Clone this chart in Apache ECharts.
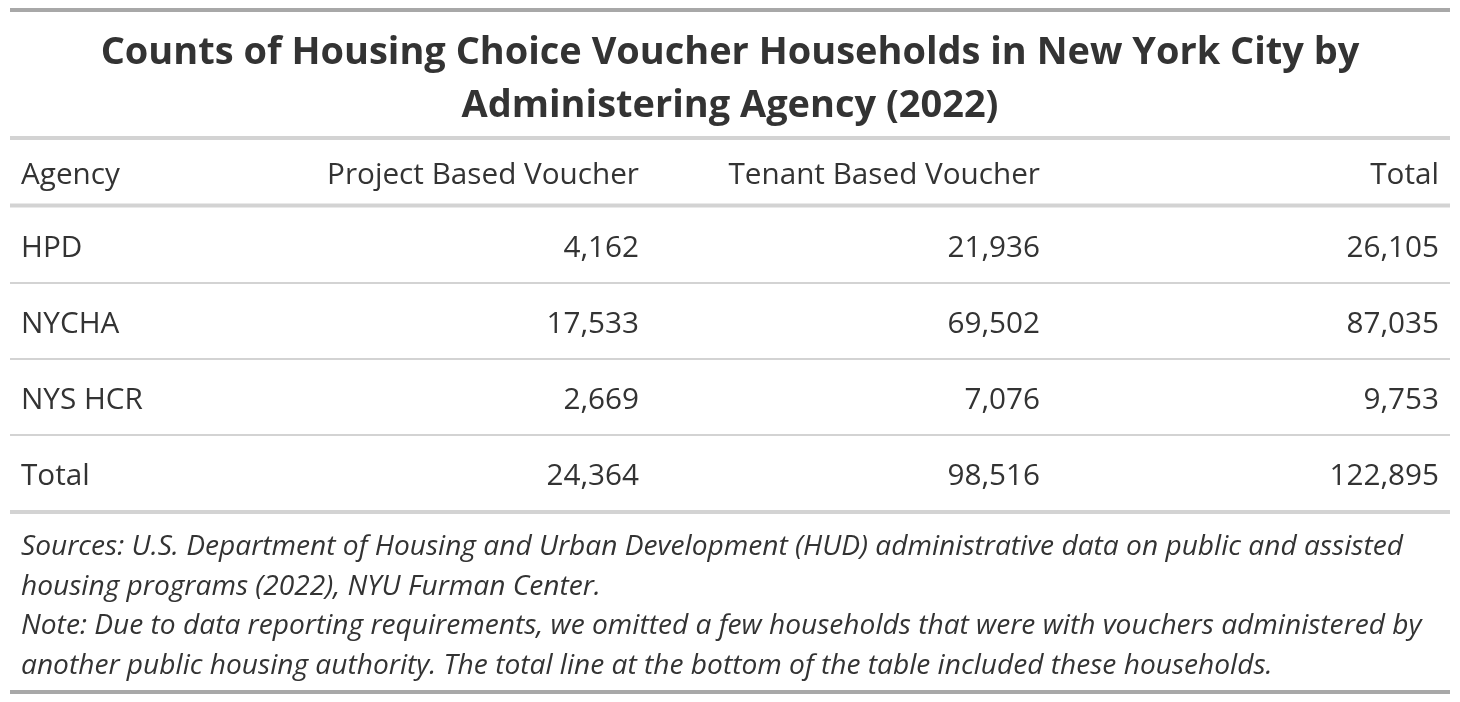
<!DOCTYPE html>
<html>
<head>
<meta charset="utf-8">
<script src="https://cdn.jsdelivr.net/npm/echarts@6/dist/echarts.min.js"></script>
<style>
  html, body { margin: 0; padding: 0; background: #fff; }
  #chart { width: 1460px; height: 702px; }
</style>
</head>
<body>
<div id="chart"></div>
<script>
// table data
const agencies = ['HPD', 'NYCHA', 'NYS HCR', 'Total'];
const projectBased = [4162, 17533, 2669, 24364];
const tenantBased = [21936, 69502, 7076, 98516];
const totals = [26105, 87035, 9753, 122895];
const headers = ['Agency', 'Project Based Voucher', 'Tenant Based Voucher', 'Total'];
const titleLines = [
    'Counts of Housing Choice Voucher Households in New York City by',
    'Administering Agency (2022)'
];
const noteLines = [
    'Sources: U.S. Department of Housing and Urban Development (HUD) administrative data on public and assisted',
    'housing programs (2022), NYU Furman Center.',
    'Note: Due to data reporting requirements, we omitted a few households that were with vouchers administered by',
    'another public housing authority. The total line at the bottom of the table included these households.'
];

const FONT = '"Open Sans", "Noto Sans", sans-serif';
const INK = '#333333';
const LIGHT = '#D3D3D3';
const DARK = '#A8A8A8';

// fit font sizes to the widths seen in the picture
const ctx = document.createElement('canvas').getContext('2d');
const fitSize = (text, style, target) => {
    ctx.font = `${style} 100px ${FONT}`;
    return 100 * target / ctx.measureText(text).width;
};
const titleSize = fitSize(titleLines[0], 'bold', 1259);
const cellSize = fitSize(headers[1], 'normal', 312);
const noteSize = fitSize(noteLines[0], 'italic', 1383);

const fmt = (v) => v.toLocaleString('en-US');

// column anchors on the x axis (0..1440 inside the grid)
const colX = [11, 629, 1030, 1429];
const colAlign = ['left', 'right', 'right', 'right'];

const cells = [];
agencies.forEach((name, i) => {
    cells.push([0, i, name]);
    cells.push([1, i, fmt(projectBased[i])]);
    cells.push([2, i, fmt(tenantBased[i])]);
    cells.push([3, i, fmt(totals[i])]);
});

const renderCell = (params, api) => {
    const col = api.value(0);
    const row = api.value(1);
    const pt = api.coord([colX[col], row]);
    const bandH = api.size([0, 1])[1];
    const children = [{
        type: 'text',
        style: {
            text: cells[params.dataIndex][2],
            x: pt[0],
            y: pt[1] + 4,
            align: colAlign[col],
            verticalAlign: 'middle',
            font: `normal ${cellSize}px ${FONT}`,
            fill: INK
        }
    }];
    if (col === 0) {
        const cs = params.coordSys;
        const last = row === agencies.length - 1;
        const ly = pt[1] + bandH / 2 + (last ? 1 : 0);
        children.push({
            type: 'line',
            shape: { x1: cs.x, y1: ly, x2: cs.x + cs.width, y2: ly },
            style: { stroke: LIGHT, lineWidth: last ? 4 : 2 }
        });
    }
    return { type: 'group', children };
};

const chart = echarts.init(document.getElementById('chart'));

const graphics = [];
// rules
const rule = (y, color, w) => ({
    type: 'line', silent: true,
    shape: { x1: 10, y1: y, x2: 1450, y2: y },
    style: { stroke: color, lineWidth: w }
});
graphics.push(rule(10, DARK, 4));
graphics.push(rule(138, LIGHT, 4));
graphics.push(rule(205.5, LIGHT, 4));
graphics.push(rule(692, DARK, 4));

// title
titleLines.forEach((t, i) => {
    graphics.push({
        type: 'text', silent: true,
        style: {
            text: t, x: 730, y: 53 + i * 53,
            align: 'center', verticalAlign: 'middle',
            font: `bold ${titleSize}px ${FONT}`, fill: INK
        }
    });
});

// header
headers.forEach((h, i) => {
    graphics.push({
        type: 'text', silent: true,
        style: {
            text: h, x: 10 + colX[i], y: 176,
            align: colAlign[i], verticalAlign: 'middle',
            font: `normal ${cellSize}px ${FONT}`, fill: INK
        }
    });
});

// notes
noteLines.forEach((t, i) => {
    graphics.push({
        type: 'text', silent: true,
        style: {
            text: t, x: 21, y: 547 + i * 39.5,
            align: 'left', verticalAlign: 'middle',
            font: `italic ${noteSize}px ${FONT}`, fill: INK
        }
    });
});

const option = {
    animation: false,
    grid: { left: 10, right: 10, top: 207, bottom: 191 },
    xAxis: { type: 'value', min: 0, max: 1440, show: false },
    yAxis: { type: 'category', data: agencies, inverse: true, show: false },
    graphic: graphics,
    series: [{
        type: 'custom',
        renderItem: renderCell,
        data: cells.map(c => [c[0], c[1]]),
        silent: true
    }]
};
chart.setOption(option);
</script>
</body>
</html>
